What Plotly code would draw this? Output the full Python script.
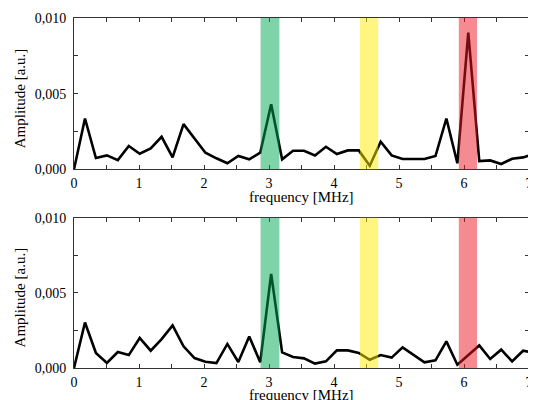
import plotly.graph_objects as go
from plotly.subplots import make_subplots

freq_mhz = [0.0, 0.169, 0.337, 0.506, 0.674, 0.843, 1.011, 1.180, 1.348, 1.517,
            1.685, 1.854, 2.022, 2.191, 2.359, 2.528, 2.696, 2.865, 3.033, 3.202,
            3.370, 3.539, 3.707, 3.876, 4.044, 4.213, 4.381, 4.550, 4.718, 4.887,
            5.055, 5.224, 5.392, 5.561, 5.729, 5.898, 6.066, 6.235, 6.403, 6.572,
            6.740, 6.909, 7.077]

amp_top = [0.0, 0.00336, 0.00075, 0.00092, 0.00061, 0.00154, 0.00103, 0.00138, 0.00215, 0.00079,
           0.00299, 0.00208, 0.00110, 0.00073, 0.00040, 0.00088, 0.00066, 0.00110, 0.00430, 0.00066,
           0.00123, 0.00123, 0.00092, 0.00149, 0.00101, 0.00125, 0.00125, 0.00024, 0.00182, 0.00092,
           0.00068, 0.00068, 0.00068, 0.00088, 0.00336, 0.00040, 0.00904, 0.00055, 0.00059, 0.00035,
           0.00070, 0.00079, 0.00100]

amp_bottom = [0.0, 0.00303, 0.00100, 0.00033, 0.00106, 0.00086, 0.00200, 0.00115, 0.00192, 0.00283,
              0.00144, 0.00066, 0.00042, 0.00033, 0.00160, 0.00040, 0.00210, 0.00038, 0.00626, 0.00104,
              0.00073, 0.00064, 0.00029, 0.00044, 0.00117, 0.00117, 0.00100, 0.00055, 0.00086, 0.00069,
              0.00137, 0.00088, 0.00038, 0.00051, 0.00177, 0.00022, 0.00088, 0.00150, 0.00060, 0.00122,
              0.00044, 0.00115, 0.00102]

band_lo = [2.87, 4.40, 5.92]
band_hi = [3.16, 4.68, 6.20]
band_colors = ["rgb(0,167,81)", "rgb(255,235,0)", "rgb(235,21,33)"]

x_tickvals = [0, 0.5, 1, 1.5, 2, 2.5, 3, 3.5, 4, 4.5, 5, 5.5, 6, 6.5, 7]
x_ticktext = ["0", "", "1", "", "2", "", "3", "", "4", "", "5", "", "6", "", "7"]
y_tickvals = [0, 0.0025, 0.005, 0.0075, 0.01]
y_ticktext = ["0,000", "", "0,005", "", "0,010"]

x_title = "frequency [MHz]"
y_title = "Amplitude [a.u.]"

FONT = "Liberation Serif"

fig = make_subplots(rows=2, cols=1)

for row, amp in [(1, amp_top), (2, amp_bottom)]:
    fig.add_trace(go.Scatter(x=freq_mhz, y=amp, mode="lines",
                             line=dict(color="black", width=2.6),
                             showlegend=False, hoverinfo="skip"), row=row, col=1)

for ax in ["", "2"]:
    for lo, hi, c in zip(band_lo, band_hi, band_colors):
        fig.add_shape(type="rect", xref="x" + ax, yref="y" + ax + " domain",
                      x0=lo, x1=hi, y0=0, y1=1, fillcolor=c, opacity=0.5,
                      line=dict(width=0), layer="above")
    fig.add_annotation(text=x_title, xref="x" + ax + " domain", yref="y" + ax + " domain",
                       x=0.5, y=-0.18, xanchor="center", yanchor="middle", showarrow=False,
                       font=dict(family=FONT, size=15, color="black"))
    fig.add_annotation(text=y_title, xref="x" + ax + " domain", yref="y" + ax + " domain",
                       x=-0.1186, y=0.47, xanchor="center", yanchor="middle", showarrow=False,
                       textangle=-90, font=dict(family=FONT, size=15, color="black"))

axis_common = dict(showline=True, linecolor="#333", linewidth=1, mirror="allticks",
                   ticks="inside", ticklen=4, tickcolor="#333", tickwidth=1,
                   showgrid=False, zeroline=False, automargin=False,
                   tickfont=dict(family=FONT, size=14, color="black"))

for row in [1, 2]:
    fig.update_xaxes(range=[0, 7], tickmode="array", tickvals=x_tickvals, ticktext=x_ticktext,
                     ticklabelstandoff=1, row=row, col=1, **axis_common)
    fig.update_yaxes(range=[0, 0.01], tickmode="array", tickvals=y_tickvals, ticktext=y_ticktext,
                     ticklabelstandoff=4, row=row, col=1, **axis_common)

fig.update_layout(yaxis=dict(domain=[0.5676, 1.0]), yaxis2=dict(domain=[0.0, 0.4295]))

fig.update_layout(width=528, height=392,
                  margin=dict(l=66, r=6.5, t=9.7, b=31.7),
                  paper_bgcolor="white", plot_bgcolor="white",
                  font=dict(family=FONT, size=14, color="black"))

fig.write_html("out.html")
